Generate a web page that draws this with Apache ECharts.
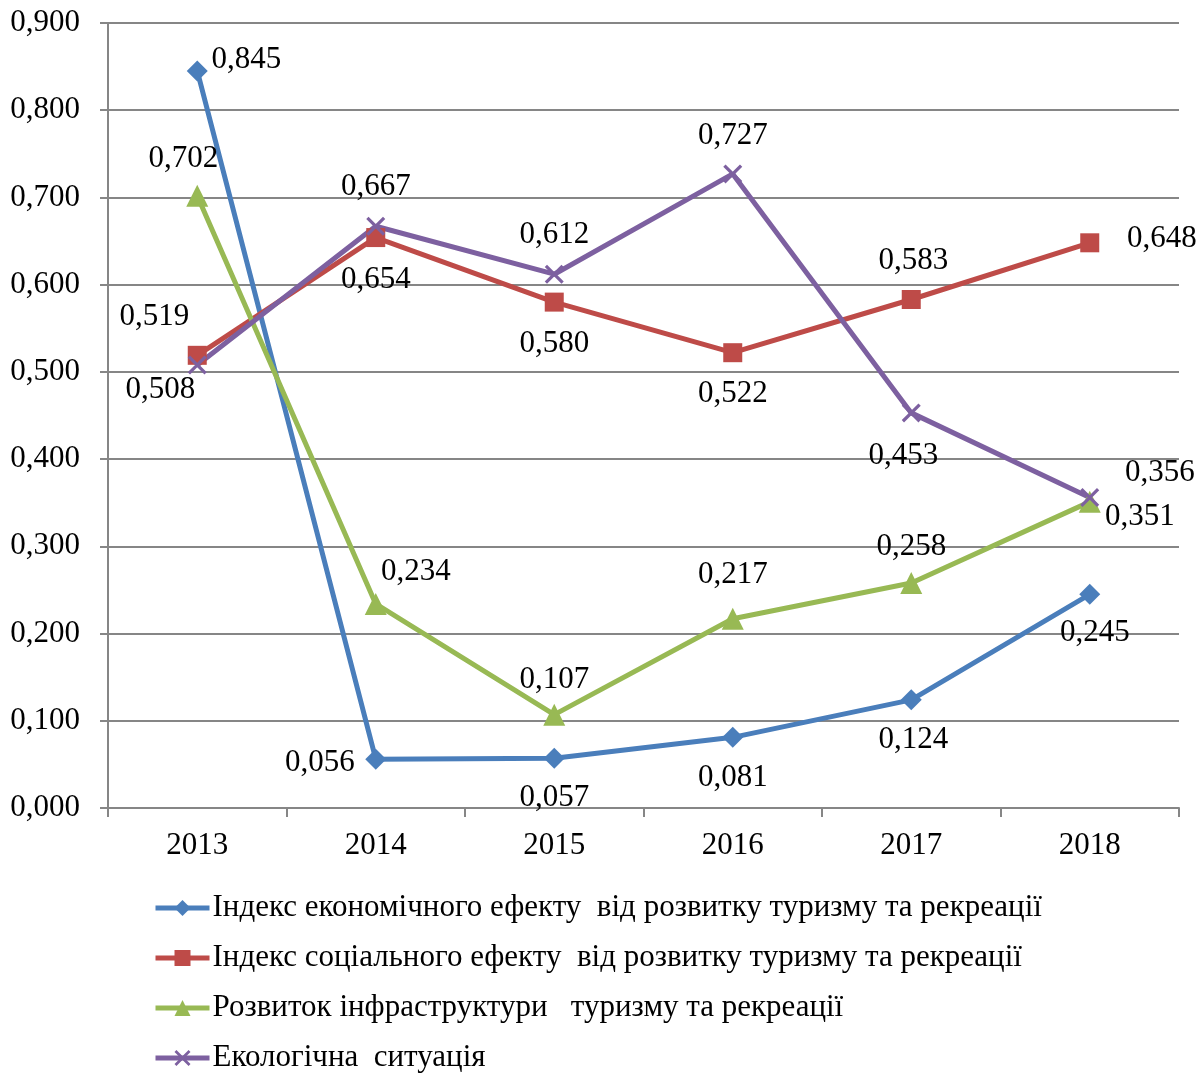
<!DOCTYPE html>
<html><head><meta charset="utf-8">
<script src="https://cdn.jsdelivr.net/npm/echarts@6/dist/echarts.min.js"></script>
<style>html,body{margin:0;padding:0;background:#fff}#c{width:1204px;height:1077px}</style>
</head><body><div id="c"></div>
<script>
const categories = ['2013','2014','2015','2016','2017','2018'];
const seriesNames = [
  'Індекс економічного ефекту  від розвитку туризму та рекреації',
  'Індекс соціального ефекту  від розвитку туризму та рекреації',
  'Розвиток інфраструктури   туризму та рекреації',
  'Екологічна  ситуація'
];
const econ   = [0.845, 0.056, 0.057, 0.081, 0.124, 0.245];
const social = [0.519, 0.654, 0.580, 0.522, 0.583, 0.648];
const infra  = [0.702, 0.234, 0.107, 0.217, 0.258, 0.351];
const eco    = [0.508, 0.667, 0.612, 0.727, 0.453, 0.356];
const yTicks = [0, 0.1, 0.2, 0.3, 0.4, 0.5, 0.6, 0.7, 0.8, 0.9];

// label placement (pixel offsets from the point to the label centre)
const econLbl   = [[49,-11],[-56,4],[0,40],[0,41],[2,40],[5,39]];
const socialLbl = [[-43,-38],[0,42],[0,42],[0,41],[2,-39],[72,-4]];
const infraLbl  = [[-14,-37],[40,-32],[0,-35],[0,-44],[0,-36],[50,15]];
const ecoLbl    = [[-37,25],[0,-39],[0,-39],[0,-38],[-8,43],[70,-25]];

const FONT = '"Liberation Serif","Times New Roman",serif';
const FS = 31;
const fmt = v => v.toFixed(3).replace('.', ',');
const crossPath = 'path://M0,1.2L1.2,0L10,8.8L8.8,10Z M8.8,0L10,1.2L1.2,10L0,8.8Z';

function mk(name, vals, lbl, color, symbol, size) {
  return {
    name, type: 'line', data: vals.map((v, i) => ({
      value: v,
      label: { offset: lbl[i] }
    })),
    symbol, symbolSize: size,
    lineStyle: { color, width: 5 },
    itemStyle: { color },
    label: {
      show: true, position: 'inside', formatter: p => fmt(p.value),
      fontFamily: FONT, fontSize: FS, color: '#000'
    },
    emphasis: { disabled: true },
    z: 2
  };
}

const chart = echarts.init(document.getElementById('c'), null, { renderer: 'canvas' });
chart.setOption({
  animation: false,
  backgroundColor: '#fff',
  grid: { left: 108, right: 25, top: 23, bottom: 269 },
  xAxis: {
    type: 'category', data: categories, boundaryGap: true,
    axisLine: { lineStyle: { color: '#868686', width: 2 } },
    axisTick: { show: true, length: 9, lineStyle: { color: '#868686', width: 2 } },
    axisLabel: { fontFamily: FONT, fontSize: FS, color: '#000', margin: 22 }
  },
  yAxis: {
    type: 'value', min: 0, max: 0.9, interval: 0.1,
    axisLine: { show: true, lineStyle: { color: '#868686', width: 2 } },
    axisTick: { show: true, length: 8, lineStyle: { color: '#868686', width: 2 } },
    splitLine: { lineStyle: { color: '#868686', width: 2 } },
    axisLabel: { fontFamily: FONT, fontSize: FS, color: '#000', margin: 28,
      formatter: v => fmt(v) }
  },
  legend: {
    orient: 'vertical', left: 153, top: 891, height: 190, padding: 0,
    itemWidth: 54, itemHeight: 20, itemGap: 16,
    lineStyle: { width: 5 },
    textStyle: { fontFamily: FONT, fontSize: FS, lineHeight: 34, color: '#000', padding: [0,0,0,-2] },
    data: seriesNames
  },
  series: [
    mk(seriesNames[0], econ, econLbl, '#4A7EBB', 'diamond', 21),
    mk(seriesNames[1], social, socialLbl, '#BE4B48', 'rect', 19),
    mk(seriesNames[2], infra, infraLbl, '#98B954', 'triangle', 22),
    mk(seriesNames[3], eco, ecoLbl, '#7D60A0', crossPath, 19)
  ]
});
</script></body></html>
